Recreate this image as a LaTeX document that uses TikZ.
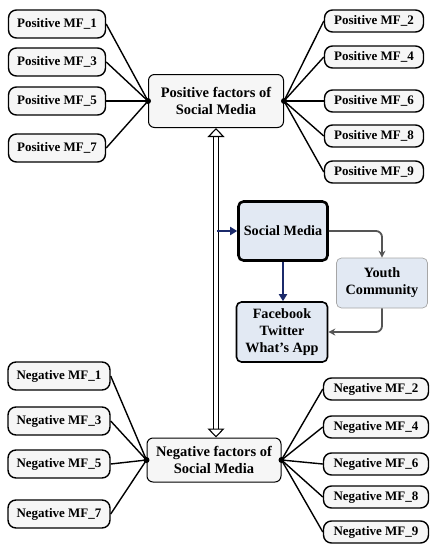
\documentclass[tikz,border=0pt]{standalone}
\usepackage{fontspec}
\setmainfont{Liberation Serif}
\usetikzlibrary{arrows.meta,positioning,calc}

\definecolor{smblue}{HTML}{E2E9F3}
\definecolor{navyarrow}{HTML}{1B2A6B}
\definecolor{grayarrow}{HTML}{555555}

\tikzset{
  mfbox/.style={draw,line width=1.4pt,rounded corners=8pt,fill=gray!7,
    font=\bfseries\fontsize{13}{15}\selectfont,minimum width=97pt,minimum height=28pt,inner sep=2pt},
  mfboxr/.style={mfbox,minimum width=99pt,minimum height=22pt},
  factorbox/.style={draw,line width=1pt,rounded corners=6pt,fill=gray!7,align=center,
    font=\bfseries\fontsize{14.5}{17}\selectfont,minimum width=135pt,minimum height=53pt},
  smbox/.style={draw,rounded corners=5pt,fill=smblue,align=center,
    font=\bfseries\fontsize{14.2}{17}\selectfont},
  link/.style={line width=1.4pt},
  navy/.style={navyarrow,line width=2.4pt,-{Triangle[length=7pt,width=8pt]}},
  grayflow/.style={grayarrow,line width=1.8pt,rounded corners=6pt,-{Stealth[length=7pt,width=7pt]}},
  hollow/.style={line width=1.1pt,double distance=4pt,
    {Triangle[open,length=9pt,width=17pt,fill=white]}-{Triangle[open,length=9pt,width=17pt,fill=white]}}
}

\begin{document}
\begin{tikzpicture}[x=1pt,y=-1pt]
    \useasboundingbox (0,0) rectangle (437,550);

    % Factor boxes
    \node[factorbox] (pos) at (216,101) {Positive factors of\\Social Media};
    \node[factorbox,minimum height=44pt,minimum width=134pt] (neg) at (214,460) {Negative factors of\\Social Media};

    % Positive factors, left and right
    \foreach \n/\y in {1/24,3/62,5/101,7/148}
        \node[mfbox] (p\n) at (57,\y) {Positive MF\_\n};
    \foreach \n/\y in {2/21,4/57,6/101,8/136,9/172}
        \node[mfboxr] (p\n) at (374,\y) {Positive MF\_\n};

    % Negative factors, left and right
    \foreach \n/\y in {1/376,3/421,5/464,7/514}
        \node[mfbox,minimum width=102pt] (n\n) at (59,\y) {Negative MF\_\n};
    \foreach \n/\y in {2/389,4/427,6/464,8/497,9/532}
        \node[mfboxr,minimum width=105pt] (n\n) at (376,\y) {Negative MF\_\n};

    % Hubs
    \coordinate (posL) at (pos.west);
    \coordinate (posR) at (pos.east);
    \coordinate (negL) at (neg.west);
    \coordinate (negR) at (neg.east);
    \foreach \h in {posL,posR,negL,negR}
        \fill (\h) circle (3pt);

    % Links to the factor boxes
    \foreach \n in {1,3,5,7} {
        \draw[link] (p\n.east) -- (posL);
        \draw[link] (n\n.east) -- (negL);
    }
    \foreach \n in {2,4,6,8,9} {
        \draw[link] (p\n.west) -- (posR);
        \draw[link] (n\n.west) -- (negR);
    }

    % Social media group
    \node[smbox,draw,line width=2.6pt,minimum width=89pt,minimum height=59pt,inner sep=1pt] (sm) at (283,231) {Social Media};
    \node[smbox,draw=gray!70,line width=0.7pt,minimum width=91pt,minimum height=50pt] (youth) at (382,283) {Youth\\Community};
    \node[smbox,line width=1.6pt,minimum width=91pt,minimum height=60pt,inner sep=1pt] (apps) at (282,332) {Facebook\\Twitter\\What’s App};

    % Double arrow between the factor boxes
    \draw[hollow] (pos.south) -- (pos.south |- neg.north);

    % Arrows
    \coordinate (tap) at ($(pos.south |- sm.west)+(1,0)$);
    \draw[navy] (tap) -- (sm.west);
    \draw[navy] (sm.south) -- (sm.south |- apps.north);
    \draw[grayflow] (sm.east) -| (youth.north);
    \draw[grayflow] (youth.south) |- (apps.east);
\end{tikzpicture}
\end{document}
